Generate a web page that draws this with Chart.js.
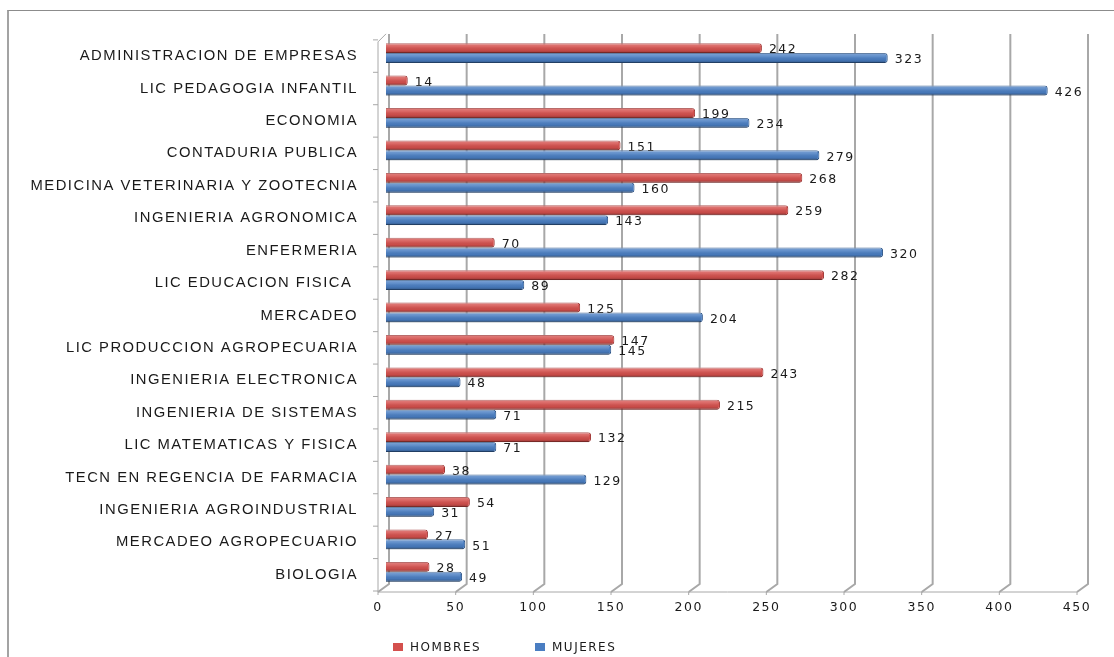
<!DOCTYPE html>
<html>
<head>
<meta charset="utf-8">
<script src="https://cdn.jsdelivr.net/npm/chart.js@4.4.0/dist/chart.umd.min.js"></script>
<style>
  html, body { margin: 0; padding: 0; background: #fff; }
  #wrap { position: relative; width: 1114px; height: 657px; overflow: hidden; }
  #frame { position: absolute; left: 7px; top: 10px; width: 1200px; height: 700px;
           border-top: 1px solid #8c8c8c; border-left: 2px solid #a3a3a3; }
  canvas { position: absolute; left: 0; top: 0; }
</style>
</head>
<body>
<div id="wrap">
  <div id="frame"></div>
  <canvas id="chart" width="1114" height="657"></canvas>
</div>
<script>
const carreras = [
    'ADMINISTRACION DE EMPRESAS', 'LIC PEDAGOGIA INFANTIL', 'ECONOMIA', 'CONTADURIA PUBLICA',
    'MEDICINA VETERINARIA Y ZOOTECNIA', 'INGENIERIA AGRONOMICA', 'ENFERMERIA', 'LIC EDUCACION FISICA ',
    'MERCADEO', 'LIC PRODUCCION AGROPECUARIA', 'INGENIERIA ELECTRONICA', 'INGENIERIA DE SISTEMAS',
    'LIC MATEMATICAS Y FISICA', 'TECN EN REGENCIA DE FARMACIA', 'INGENIERIA AGROINDUSTRIAL',
    'MERCADEO AGROPECUARIO', 'BIOLOGIA'
];
const hombres = [242, 14, 199, 151, 268, 259, 70, 282, 125, 147, 243, 215, 132, 38, 54, 27, 28];
const mujeres = [323, 426, 234, 279, 160, 143, 320, 89, 204, 145, 48, 71, 71, 129, 31, 51, 49];
const xMax = 450;
const xStep = 50;

const numFont = '12.5px "DejaVu Sans"';
const textColor = '#1a1a1a';
const gridColor = '#a8a8a8';

// the original text is drawn wide, spread the letters a little
function setSpacing(chart) {
    chart.ctx.letterSpacing = '1.5px';
}

// grid lines and walls drawn the Excel 3D way (back line + diagonal to the front tick)
const wallsPlugin = {
    id: 'walls',
    beforeUpdate: setSpacing,
    beforeDraw: setSpacing,
    beforeDatasetsDraw(chart) {
        const ctx = chart.ctx;
        const x = chart.scales.x;
        const y = chart.scales.y;
        const area = chart.chartArea;
        const back = 3, front = -8;
        const floorY = area.bottom + 4;
        ctx.save();
        ctx.strokeStyle = gridColor;
        ctx.lineWidth = 2;
        x.ticks.forEach(t => {
            const px = x.getPixelForValue(t.value);
            ctx.beginPath();
            ctx.moveTo(px + back, area.top - 3);
            ctx.lineTo(px + back, area.bottom - 4);
            ctx.lineTo(px + front, floorY);
            ctx.stroke();
        });
        ctx.lineWidth = 1;
        // floor front edge
        ctx.beginPath();
        ctx.moveTo(x.getPixelForValue(0) + front, floorY);
        ctx.lineTo(x.getPixelForValue(xMax) + front, floorY);
        ctx.stroke();
        x.ticks.forEach(t => {
            const px = x.getPixelForValue(t.value) + front;
            ctx.beginPath();
            ctx.moveTo(px, floorY);
            ctx.lineTo(px, floorY + 3);
            ctx.stroke();
        });
        // left wall front edge
        const lx = x.getPixelForValue(0) + front;
        ctx.beginPath();
        ctx.moveTo(lx + 8, area.top - 3);
        ctx.lineTo(lx, area.top + 5);
        ctx.lineTo(lx, floorY);
        ctx.stroke();
        // category ticks
        const half = (y.getPixelForValue(1) - y.getPixelForValue(0)) / 2;
        for (let i = 0; i <= carreras.length; i++) {
            const py = y.getPixelForValue(i) - half + 3;
            ctx.beginPath();
            ctx.moveTo(lx - 5, py);
            ctx.lineTo(lx, py);
            ctx.stroke();
        }
        ctx.restore();
    },
    afterDatasetsDraw(chart) {
        const ctx = chart.ctx;
        ctx.save();
        chart.data.datasets.forEach((ds, di) => {
            const meta = chart.getDatasetMeta(di);
            meta.data.forEach((bar, i) => {
                const top = bar.y - bar.height / 2;
                const g = ctx.createLinearGradient(0, top, 0, top + bar.height);
                g.addColorStop(0, 'rgba(255,255,255,0.30)');
                g.addColorStop(0.35, 'rgba(255,255,255,0.12)');
                g.addColorStop(0.7, 'rgba(0,0,0,0.05)');
                g.addColorStop(1, 'rgba(0,0,0,0.30)');
                ctx.fillStyle = g;
                ctx.fillRect(bar.base, top, bar.x - bar.base - 2, bar.height);
                // value label
                ctx.fillStyle = textColor;
                ctx.font = numFont;
                ctx.textAlign = 'left';
                ctx.textBaseline = 'middle';
                ctx.fillText(String(ds.data[i]), bar.x + 7, bar.y + 2);
            });
        });
        ctx.restore();
    },
    afterDraw(chart) {
        // legend, spread out like the original
        const ctx = chart.ctx;
        ctx.save();
        ctx.font = '12px "DejaVu Sans"';
        ctx.textBaseline = 'middle';
        ctx.textAlign = 'left';
        let lx = 393;
        chart.data.datasets.forEach(ds => {
            ctx.fillStyle = ds.backgroundColor;
            ctx.fillRect(lx, 643, 10, 8);
            ctx.fillStyle = textColor;
            ctx.fillText(ds.label, lx + 17, 648);
            lx += 142;
        });
        ctx.restore();
    }
};

new Chart(document.getElementById('chart').getContext('2d'), {
    type: 'bar',
    data: {
        labels: carreras,
        datasets: [{
            label: 'HOMBRES',
            data: hombres,
            backgroundColor: '#d4504d',
            borderColor: '#9e3634',
            borderWidth: 1,
            borderRadius: { topRight: 3, bottomRight: 3 },
            borderSkipped: 'start',
            categoryPercentage: 0.61,
            barPercentage: 1
        }, {
            label: 'MUJERES',
            data: mujeres,
            backgroundColor: '#4a7ec2',
            borderColor: '#2d5486',
            borderWidth: 1,
            borderRadius: { topRight: 3, bottomRight: 3 },
            borderSkipped: 'start',
            categoryPercentage: 0.61,
            barPercentage: 1
        }]
    },
    options: {
        indexAxis: 'y',
        responsive: false,
        animation: false,
        layout: { padding: { top: 32, right: 29, bottom: 0, left: 0 } },
        plugins: {
            legend: { display: false },
            tooltip: { enabled: false }
        },
        scales: {
            x: {
                min: 0,
                max: xMax,
                ticks: { stepSize: xStep, color: textColor, font: { family: 'DejaVu Sans', size: 12.5 }, padding: 12, labelOffset: -8, maxRotation: 0 },
                grid: { display: false, drawTicks: false },
                border: { display: false },
                afterFit(scale) { scale.height = 69; }
            },
            y: {
                ticks: { color: textColor, font: { family: 'Liberation Sans', size: 14.8 }, padding: 28, labelOffset: 3, autoSkip: false },
                grid: { display: false, drawTicks: false },
                border: { display: false },
                afterFit(scale) { scale.width = 386; }
            }
        }
    },
    plugins: [wallsPlugin]
});
</script>
</body>
</html>
